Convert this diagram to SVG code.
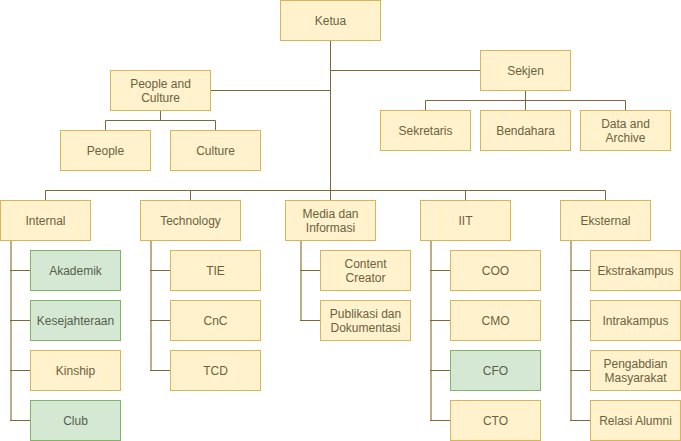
<svg xmlns="http://www.w3.org/2000/svg" width="681" height="441" viewBox="0 0 681 441">
<style>
.y rect{fill:#fff2cc;stroke:#d6b656;stroke-width:1}
.g rect{fill:#d5e8d4;stroke:#82b366;stroke-width:1}
text{font-family:"Liberation Sans",Arial,sans-serif;font-size:12px;text-anchor:middle;fill:#6b6240}
.g text{fill:#55604a}
.e{fill:none;stroke:#7a6a3a;stroke-width:1}
.t{fill:none;stroke:#bcae8a;stroke-width:2}
</style>
<rect width="681" height="441" fill="#ffffff"/>
<g id="connectors">
<path class="e" d="M330.5 40V190.5M330.5 70.5H480M210 90.5H330.5"/>
<path class="e" d="M160.5 110V120.5M105.5 130V120.5H215.5V130"/>
<path class="e" d="M525.5 90V110M425.5 110V100.5H625.5V110"/>
<path class="e" d="M45.5 200V190.5H605.5V200M190.5 190.5V200M330.5 190.5V200M465.5 190.5V200"/>
<path class="t" d="M11 240V420M151 240V370M301 240V320M431 240V420M571 240V420"/>
<path class="e" d="M10 270.5H30M10 320.5H30M10 370.5H30M10 420.5H30"/>
<path class="e" d="M150 270.5H170M150 320.5H170M150 370.5H170"/>
<path class="e" d="M300 270.5H320M300 320.5H320"/>
<path class="e" d="M430 270.5H450M430 320.5H450M430 370.5H450M430 420.5H450"/>
<path class="e" d="M570 270.5H590M570 320.5H590M570 370.5H590M570 420.5H590"/>
</g>
<g id="ketua" class="y"><rect x="280.5" y="0.5" width="100" height="40"/><text x="330.5" y="24.5">Ketua</text></g>
<g id="sekjen" class="y"><rect x="480.5" y="50.5" width="90" height="40"/><text x="525.5" y="74.5">Sekjen</text></g>
<g id="pnc" class="y"><rect x="110.5" y="70.5" width="100" height="40"/><text x="160.5" y="87.5">People and</text><text x="160.5" y="101.5">Culture</text></g>
<g id="people" class="y"><rect x="60.5" y="130.5" width="90" height="40"/><text x="105.5" y="154.5">People</text></g>
<g id="culture" class="y"><rect x="170.5" y="130.5" width="90" height="40"/><text x="215.5" y="154.5">Culture</text></g>
<g id="sekretaris" class="y"><rect x="380.5" y="110.5" width="90" height="40"/><text x="425.5" y="134.5">Sekretaris</text></g>
<g id="bendahara" class="y"><rect x="480.5" y="110.5" width="90" height="40"/><text x="525.5" y="134.5">Bendahara</text></g>
<g id="data" class="y"><rect x="580.5" y="110.5" width="90" height="40"/><text x="625.5" y="127.5">Data and</text><text x="625.5" y="141.5">Archive</text></g>
<g id="internal" class="y"><rect x="0.5" y="200.5" width="90" height="40"/><text x="45.5" y="224.5">Internal</text></g>
<g id="technology" class="y"><rect x="140.5" y="200.5" width="100" height="40"/><text x="190.5" y="224.5">Technology</text></g>
<g id="media" class="y"><rect x="285.5" y="200.5" width="90" height="40"/><text x="330.5" y="217.5">Media dan</text><text x="330.5" y="231.5">Informasi</text></g>
<g id="iit" class="y"><rect x="420.5" y="200.5" width="90" height="40"/><text x="465.5" y="224.5">IIT</text></g>
<g id="eksternal" class="y"><rect x="560.5" y="200.5" width="90" height="40"/><text x="605.5" y="224.5">Eksternal</text></g>
<g id="akademik" class="g"><rect x="30.5" y="250.5" width="90" height="40"/><text x="75.5" y="274.5">Akademik</text></g>
<g id="kesejahteraan" class="g"><rect x="30.5" y="300.5" width="90" height="40"/><text x="75.5" y="324.5">Kesejahteraan</text></g>
<g id="kinship" class="y"><rect x="30.5" y="350.5" width="90" height="40"/><text x="75.5" y="374.5">Kinship</text></g>
<g id="club" class="g"><rect x="30.5" y="400.5" width="90" height="40"/><text x="75.5" y="424.5">Club</text></g>
<g id="tie" class="y"><rect x="170.5" y="250.5" width="90" height="40"/><text x="215.5" y="274.5">TIE</text></g>
<g id="cnc" class="y"><rect x="170.5" y="300.5" width="90" height="40"/><text x="215.5" y="324.5">CnC</text></g>
<g id="tcd" class="y"><rect x="170.5" y="350.5" width="90" height="40"/><text x="215.5" y="374.5">TCD</text></g>
<g id="content" class="y"><rect x="320.5" y="250.5" width="90" height="40"/><text x="365.5" y="267.5">Content</text><text x="365.5" y="281.5">Creator</text></g>
<g id="publikasi" class="y"><rect x="320.5" y="300.5" width="90" height="40"/><text x="365.5" y="317.5">Publikasi dan</text><text x="365.5" y="331.5">Dokumentasi</text></g>
<g id="coo" class="y"><rect x="450.5" y="250.5" width="90" height="40"/><text x="495.5" y="274.5">COO</text></g>
<g id="cmo" class="y"><rect x="450.5" y="300.5" width="90" height="40"/><text x="495.5" y="324.5">CMO</text></g>
<g id="cfo" class="g"><rect x="450.5" y="350.5" width="90" height="40"/><text x="495.5" y="374.5">CFO</text></g>
<g id="cto" class="y"><rect x="450.5" y="400.5" width="90" height="40"/><text x="495.5" y="424.5">CTO</text></g>
<g id="ekstrakampus" class="y"><rect x="590.5" y="250.5" width="90" height="40"/><text x="635.5" y="274.5">Ekstrakampus</text></g>
<g id="intrakampus" class="y"><rect x="590.5" y="300.5" width="90" height="40"/><text x="635.5" y="324.5">Intrakampus</text></g>
<g id="pengabdian" class="y"><rect x="590.5" y="350.5" width="90" height="40"/><text x="635.5" y="367.5">Pengabdian</text><text x="635.5" y="381.5">Masyarakat</text></g>
<g id="relasi" class="y"><rect x="590.5" y="400.5" width="90" height="40"/><text x="635.5" y="424.5">Relasi Alumni</text></g>
</svg>
